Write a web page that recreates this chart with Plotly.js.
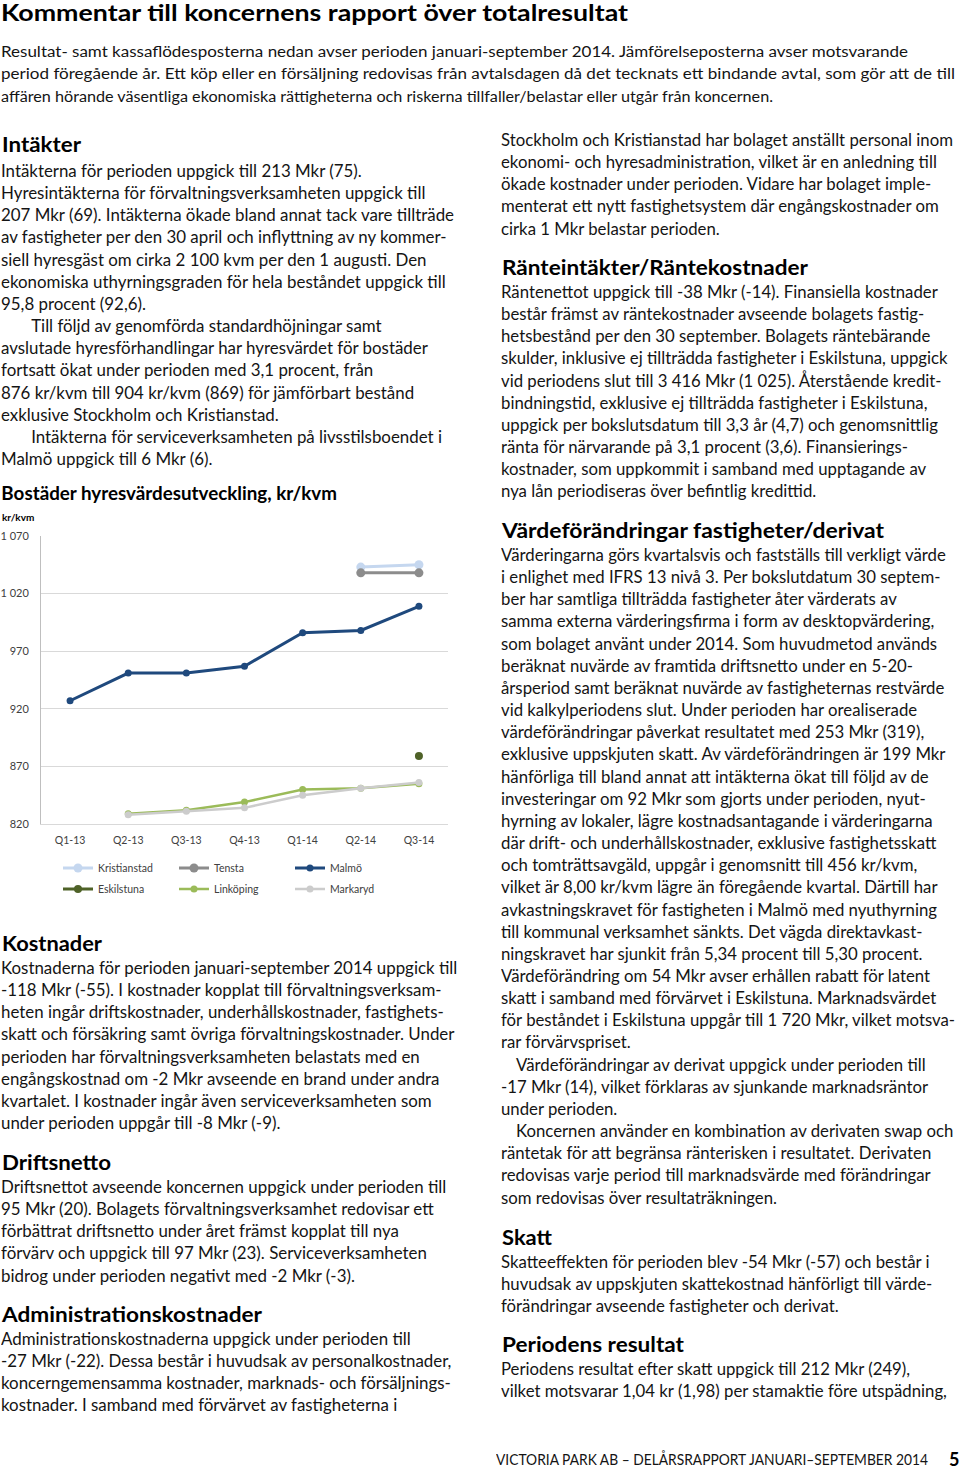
<!DOCTYPE html>
<html><head><meta charset="utf-8">
<script src="https://cdn.plot.ly/plotly-3.0.1.min.js"></script>
<style>
body{margin:0;width:960px;height:1475px;position:relative;background:#fff;font-family:Lato,'Open Sans',sans-serif;color:#141414;overflow:hidden}
.t{position:absolute;white-space:nowrap;transform-origin:0 50%;}
.h{font-weight:bold;color:#000;font-size:20px;line-height:24px}
.b{position:absolute;white-space:nowrap;font-size:16.8px;line-height:22.15px;transform-origin:0 0}
.p{font-size:15.5px;line-height:22px;color:#141414}
.iL{padding-left:30px}
.iR{padding-left:15px}
#chart{position:absolute;left:0;top:478px;width:455px;height:427px}
</style></head>
<body>
<div class="t h" style="left:1px;top:1px;font-size:22px" data-w="627">Kommentar till koncernens rapport över totalresultat</div>
<div class="t p" style="left:1px;top:40px" data-w="907">Resultat- samt kassaflödesposterna nedan avser perioden januari-september 2014. Jämförelseposterna avser motsvarande</div>
<div class="t p" style="left:1px;top:62px" data-w="954">period föregående år. Ett köp eller en försäljning redovisas från avtalsdagen då det tecknats ett bindande avtal, som gör att de till</div>
<div class="t p" style="left:1px;top:85px" data-w="772">affären hörande väsentliga ekonomiska rättigheterna och riskerna tillfaller/belastar eller utgår från koncernen.</div>

<div class="t h" style="left:2px;top:132px" data-w="79">Intäkter</div>
<div class="b L" style="left:1px;top:160px">Intäkterna för perioden uppgick till 213 Mkr (75).<br>Hyresintäkterna för förvaltningsverksamheten uppgick till<br><span id="refL">207 Mkr (69). Intäkterna ökade bland annat tack vare tillträde</span><br>av fastigheter per den 30 april och inflyttning av ny kommer-<br>siell hyresgäst om cirka 2 100 kvm per den 1 augusti. Den<br>ekonomiska uthyrningsgraden för hela beståndet uppgick till<br>95,8 procent (92,6).<br><span class="iL">Till följd av genomförda standardhöjningar samt</span><br>avslutade hyresförhandlingar har hyresvärdet för bostäder<br>fortsatt ökat under perioden med 3,1 procent, från<br>876 kr/kvm till 904 kr/kvm (869) för jämförbart bestånd<br>exklusive Stockholm och Kristianstad.<br><span class="iL">Intäkterna för serviceverksamheten på livsstilsboendet i</span><br>Malmö uppgick till 6 Mkr (6).</div>

<div id="chart"></div>

<div class="t h" style="left:2px;top:931px" data-w="100">Kostnader</div>
<div class="b L" style="left:1px;top:957px">Kostnaderna för perioden januari-september 2014 uppgick till<br>-118 Mkr (-55). I kostnader kopplat till förvaltningsverksam-<br>heten ingår driftskostnader, underhållskostnader, fastighets-<br>skatt och försäkring samt övriga förvaltningskostnader. Under<br>perioden har förvaltningsverksamheten belastats med en<br>engångskostnad om -2 Mkr avseende en brand under andra<br>kvartalet. I kostnader ingår även serviceverksamheten som<br>under perioden uppgår till -8 Mkr (-9).</div>

<div class="t h" style="left:2px;top:1150px" data-w="109">Driftsnetto</div>
<div class="b L" style="left:1px;top:1176px">Driftsnettot avseende koncernen uppgick under perioden till<br>95 Mkr (20). Bolagets förvaltningsverksamhet redovisar ett<br>förbättrat driftsnetto under året främst kopplat till nya<br>förvärv och uppgick till 97 Mkr (23). Serviceverksamheten<br>bidrog under perioden negativt med -2 Mkr (-3).</div>

<div class="t h" style="left:2px;top:1302px" data-w="260">Administrationskostnader</div>
<div class="b L" style="left:1px;top:1328px">Administrationskostnaderna uppgick under perioden till<br>-27 Mkr (-22). Dessa består i huvudsak av personalkostnader,<br>koncerngemensamma kostnader, marknads- och försäljnings-<br>kostnader. I samband med förvärvet av fastigheterna i</div>

<div class="b R" style="left:501px;top:129px"><span id="refR">Stockholm och Kristianstad har bolaget anställt personal inom</span><br>ekonomi- och hyresadministration, vilket är en anledning till<br>ökade kostnader under perioden. Vidare har bolaget imple-<br>menterat ett nytt fastighetsystem där engångskostnader om<br>cirka 1 Mkr belastar perioden.</div>

<div class="t h" style="left:502px;top:255px" data-w="306">Ränteintäkter/Räntekostnader</div>
<div class="b R" style="left:501px;top:281px">Räntenettot uppgick till -38 Mkr (-14). Finansiella kostnader<br>består främst av räntekostnader avseende bolagets fastig-<br>hetsbestånd per den 30 september. Bolagets räntebärande<br>skulder, inklusive ej tillträdda fastigheter i Eskilstuna, uppgick<br>vid periodens slut till 3 416 Mkr (1 025). Återstående kredit-<br>bindningstid, exklusive ej tillträdda fastigheter i Eskilstuna,<br>uppgick per bokslutsdatum till 3,3 år (4,7) och genomsnittlig<br>ränta för närvarande på 3,1 procent (3,6). Finansierings-<br>kostnader, som uppkommit i samband med upptagande av<br>nya lån periodiseras över befintlig kredittid.</div>

<div class="t h" style="left:502px;top:518px" data-w="382">Värdeförändringar fastigheter/derivat</div>
<div class="b R" style="left:501px;top:544px">Värderingarna görs kvartalsvis och fastställs till verkligt värde<br>i enlighet med IFRS 13 nivå 3. Per bokslutdatum 30 septem-<br>ber har samtliga tillträdda fastigheter åter värderats av<br>samma externa värderingsfirma i form av desktopvärdering,<br>som bolaget använt under 2014. Som huvudmetod används<br>beräknat nuvärde av framtida driftsnetto under en 5-20-<br>årsperiod samt beräknat nuvärde av fastigheternas restvärde<br>vid kalkylperiodens slut. Under perioden har orealiserade<br>värdeförändringar påverkat resultatet med 253 Mkr (319),<br>exklusive uppskjuten skatt. Av värdeförändringen är 199 Mkr<br>hänförliga till bland annat att intäkterna ökat till följd av de<br>investeringar om 92 Mkr som gjorts under perioden, nyut-<br>hyrning av lokaler, lägre kostnadsantagande i värderingarna<br>där drift- och underhållskostnader, exklusive fastighetsskatt<br>och tomträttsavgäld, uppgår i genomsnitt till 456 kr/kvm,<br>vilket är 8,00 kr/kvm lägre än föregående kvartal. Därtill har<br>avkastningskravet för fastigheten i Malmö med nyuthyrning<br>till kommunal verksamhet sänkts. Det vägda direktavkast-<br>ningskravet har sjunkit från 5,34 procent till 5,30 procent.<br>Värdeförändring om 54 Mkr avser erhållen rabatt för latent<br>skatt i samband med förvärvet i Eskilstuna. Marknadsvärdet<br>för beståndet i Eskilstuna uppgår till 1 720 Mkr, vilket motsva-<br>rar förvärvspriset.<br><span class="iR">Värdeförändringar av derivat uppgick under perioden till</span><br>-17 Mkr (14), vilket förklaras av sjunkande marknadsräntor<br>under perioden.<br><span class="iR">Koncernen använder en kombination av derivaten swap och</span><br>räntetak för att begränsa ränterisken i resultatet. Derivaten<br>redovisas varje period till marknadsvärde med förändringar<br>som redovisas över resultaträkningen.</div>

<div class="t h" style="left:502px;top:1225px" data-w="50">Skatt</div>
<div class="b R" style="left:501px;top:1251px">Skatteeffekten för perioden blev -54 Mkr (-57) och består i<br>huvudsak av uppskjuten skattekostnad hänförligt till värde-<br>förändringar avseende fastigheter och derivat.</div>

<div class="t h" style="left:502px;top:1332px" data-w="182">Periodens resultat</div>
<div class="b R" style="left:501px;top:1358px">Periodens resultat efter skatt uppgick till 212 Mkr (249),<br>vilket motsvarar 1,04 kr (1,98) per stamaktie före utspädning,</div>

<div class="t" style="left:496px;top:1450px;font-size:14.5px;line-height:20px;color:#141414" data-w="432">VICTORIA PARK AB – DELÅRSRAPPORT JANUARI–SEPTEMBER 2014</div>
<div class="t" style="left:949px;top:1448px;font-size:18px;line-height:22px;font-weight:bold;color:#000">5</div>

<script>
// ---- chart data ----
const quarters = ['Q1-13','Q2-13','Q3-13','Q4-13','Q1-14','Q2-14','Q3-14'];
const kristianstad = [null,null,null,null,null,1043,1045];
const tensta       = [null,null,null,null,null,1038,1038];
const malmo        = [927,951,951,957,986,988,1009];
const eskilstuna   = [null,null,null,null,null,null,879];
const linkoping    = [null,829,832,839,850,851,855];
const markaryd     = [null,828,831,834,845,851,856];
const yTickVals = [820,870,920,970,1020,1070];
const yTickText = ['820','870','920','970','1 020','1 070'];
const chartTitle = 'Bostäder hyresvärdesutveckling, kr/kvm';
const yUnit = 'kr/kvm';

function tr(name, y, color, lw, ms, leg){
  return {type:'scatter', mode:'lines+markers', name:name, x:quarters, y:y,
    line:{color:color, width:lw}, marker:{color:color, size:ms}, legend:leg, connectgaps:false};
}
const traces = [
  tr('Kristianstad', kristianstad, '#c5d7ef', 3, 9, 'legend'),
  tr('Tensta', tensta, '#8c8c8c', 3, 9, 'legend'),
  tr('Malmö', malmo, '#1f497d', 3, 7, 'legend'),
  tr('Eskilstuna', eskilstuna, '#4f6228', 3, 8, 'legend2'),
  tr('Linköping', linkoping, '#9bbb59', 2.5, 7, 'legend2'),
  tr('Markaryd', markaryd, '#cccccc', 2.5, 7, 'legend2')
];
const legFont = {family:'Lato, sans-serif', size:10.5, color:'#404040'};
const layout = {
  width:455, height:427,
  margin:{l:41, r:7, t:58, b:81},
  paper_bgcolor:'#fff', plot_bgcolor:'#fff',
  font:{family:'Lato, sans-serif', color:'#404040', size:10.5},
  title:{text:'<b>'+chartTitle+'</b>', font:{size:18.8, color:'#000', family:'Lato, sans-serif'},
    xref:'container', x:0.003, xanchor:'left', yref:'container', y:1-(15/427), yanchor:'middle'},
  xaxis:{type:'category', range:[-0.5,6.5], showgrid:false, showline:true, linecolor:'#d9d9d9',
    ticks:'', tickfont:{size:10.5, color:'#404040'}, ticklabelstandoff:6, fixedrange:true},
  yaxis:{range:[820,1070], tickvals:yTickVals, ticktext:yTickText, showgrid:true, gridcolor:'#d9d9d9',
    showline:true, linecolor:'#bfbfbf', zeroline:false, ticks:'', tickfont:{size:11, color:'#404040'},
    ticklabelstandoff:9, fixedrange:true},
  showlegend:true,
  legend:{orientation:'h', xref:'container', x:58/455, xanchor:'left', yref:'container', y:1-(390/427), yanchor:'middle',
    entrywidth:71, entrywidthmode:'pixels', font:legFont, bgcolor:'rgba(0,0,0,0)'},
  legend2:{orientation:'h', xref:'container', x:58/455, xanchor:'left', yref:'container', y:1-(411/427), yanchor:'middle',
    entrywidth:71, entrywidthmode:'pixels', font:legFont, bgcolor:'rgba(0,0,0,0)'},
  annotations:[{text:'<b>'+yUnit+'</b>', xref:'paper', yref:'paper', x:-41/407, xanchor:'left',
    y:(824-517)/288, yanchor:'middle', showarrow:false, font:{size:10, color:'#000'}}]
};
Plotly.newPlot('chart', traces, layout, {staticPlot:true, displayModeBar:false});

function fit(){
  document.querySelectorAll('[data-w]').forEach(el=>{
    el.style.transform='none';
    const w = el.getBoundingClientRect().width;
    el.style.transform = 'scaleX('+(parseFloat(el.dataset.w)/w)+')';
  });
  document.querySelectorAll('.b').forEach(el=>el.style.transform='none');
  const kL = 453/document.getElementById('refL').getBoundingClientRect().width;
  const kR = 452/document.getElementById('refR').getBoundingClientRect().width;
  document.querySelectorAll('.b.L').forEach(el=>el.style.transform='scaleX('+kL+')');
  document.querySelectorAll('.b.R').forEach(el=>el.style.transform='scaleX('+kR+')');
}
if (document.fonts && document.fonts.ready) document.fonts.ready.then(fit); else fit();
fit();
</script>
</body></html>
